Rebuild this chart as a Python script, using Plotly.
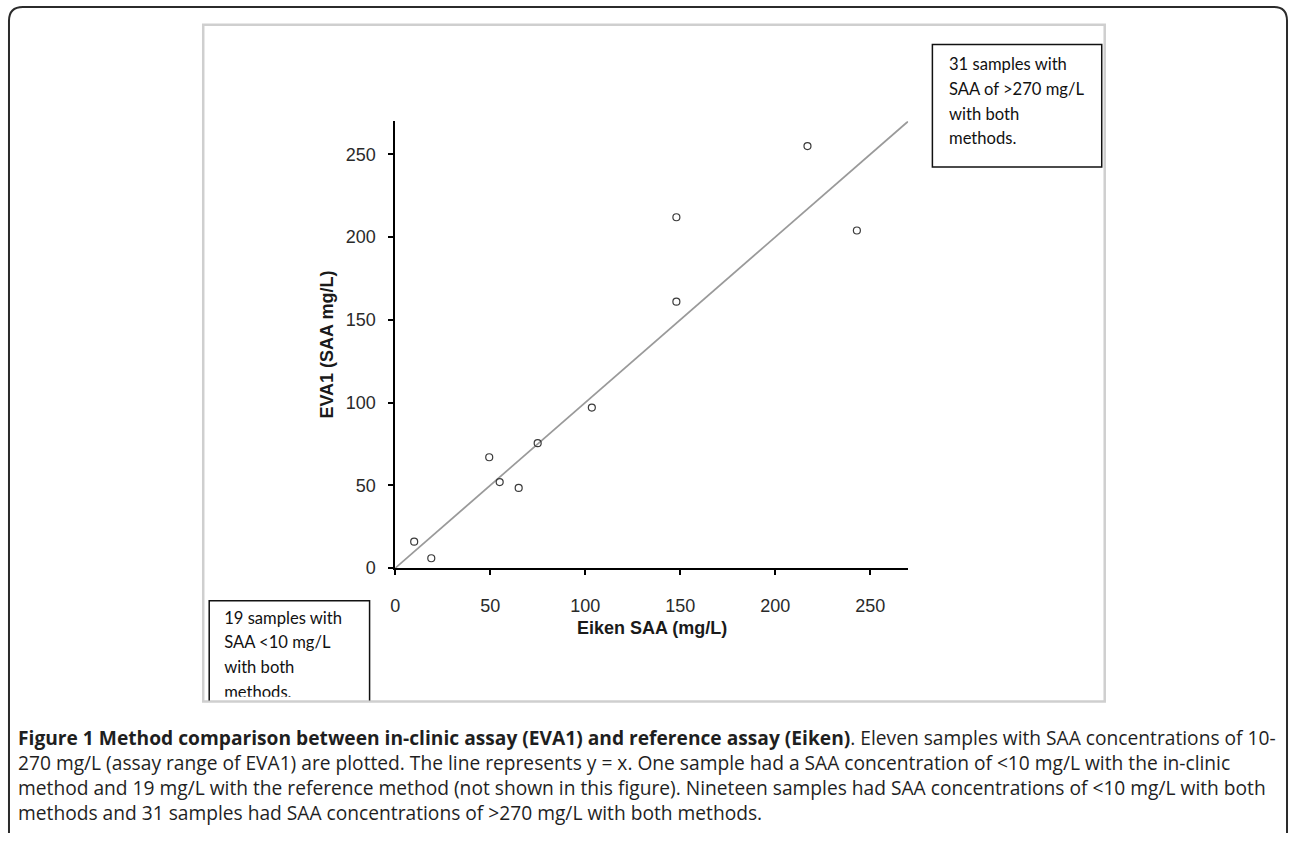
import plotly.graph_objects as go

# ---- data ----
eiken_saa = [10, 19, 49.5, 55, 65, 75, 103.5, 148, 148, 217, 243]
eva1_saa = [16, 6, 67, 52, 48.5, 75.5, 97, 212, 161, 255, 204]
identity_x = [0, 270]
identity_y = [0, 270]
tick_vals = [0, 50, 100, 150, 200, 250]
tick_text = ["0", "50", "100", "150", "200", "250"]

x_title = "Eiken SAA (mg/L)"
y_title = "EVA1 (SAA mg/L)"
box_top_lines = ["31 samples with", "SAA of &gt;270 mg/L", "with both", "methods."]
box_bottom_lines = ["19 samples with", "SAA &lt;10 mg/L", "with both", "methods."]
caption_lines = [
    "<b>Figure 1 Method comparison between in-clinic assay (EVA1) and reference assay (Eiken)</b>. Eleven samples with SAA concentrations of 10-",
    "270 mg/L (assay range of EVA1) are plotted. The line represents y = x. One sample had a SAA concentration of &lt;10 mg/L with the in-clinic",
    "method and 19 mg/L with the reference method (not shown in this figure). Nineteen samples had SAA concentrations of &lt;10 mg/L with both",
    "methods and 31 samples had SAA concentrations of &gt;270 mg/L with both methods.",
]

W, H = 1290, 843
FRAME_BOTTOM = 710
TEXT_CLIP = 705


def px(x):
    return x / W


def py(y):
    return 1 - y / H


fig = go.Figure()

fig.add_trace(go.Scatter(
    x=identity_x, y=identity_y, mode="lines",
    line=dict(color="#9a9a9a", width=1.8), showlegend=False, hoverinfo="skip",
))
fig.add_trace(go.Scatter(
    x=eiken_saa, y=eva1_saa, mode="markers",
    marker=dict(symbol="circle-open", size=7, color="#3a3a3a", line=dict(width=1.2, color="#3a3a3a")),
    showlegend=False, cliponaxis=False,
))

box_font = dict(family="Lato, Open Sans, sans-serif", size=16.6, color="#111111")
# bottom-left box text on a pixel-space overlay subplot so the last line is clipped at the box edge
fig.add_trace(go.Scatter(
    x=[220] * len(box_bottom_lines),
    y=[627 + 25 * i for i in range(len(box_bottom_lines))],
    text=box_bottom_lines, mode="text", textposition="middle right",
    textfont=box_font, cliponaxis=True, showlegend=False, hoverinfo="skip",
    xaxis="x2", yaxis="y2",
))

axis_common = dict(
    range=[0, 270], tickvals=tick_vals, ticktext=tick_text,
    showgrid=False, zeroline=False, showline=True, linecolor="black", linewidth=1.6,
    ticks="outside", ticklen=5, tickwidth=1.6, tickcolor="black",
    tickfont=dict(family="Liberation Sans, Arial", size=18, color="#2a2a2a"),
)

fig.update_layout(
    width=W, height=H,
    margin=dict(l=0, r=0, t=0, b=0),
    paper_bgcolor="white", plot_bgcolor="rgba(0,0,0,0)",
    xaxis=dict(domain=[px(391.7), px(906.7)], ticklabelstandoff=15, **axis_common),
    yaxis=dict(domain=[py(575), py(122.7)], ticklabelstandoff=9, **axis_common),
    xaxis2=dict(domain=[0, 1], range=[0, W], visible=False, anchor="y2", fixedrange=True),
    yaxis2=dict(domain=[py(TEXT_CLIP), 1], range=[TEXT_CLIP, 0], visible=False,
                anchor="x2", fixedrange=True),
)

shapes = []
# outer rounded frame
shapes.append(dict(
    type="path", xref="paper", yref="paper",
    path=(f"M {px(4)},{py(843)} L {px(4)},{py(21)} Q {px(4)},{py(7)} {px(18)},{py(7)} "
          f"L {px(1274)},{py(7)} Q {px(1287)},{py(7)} {px(1287)},{py(21)} L {px(1287)},{py(843)}"),
    line=dict(color="#2b2b2b", width=2),
))
# inner image frame
shapes.append(dict(type="rect", xref="paper", yref="paper",
                   x0=px(199), x1=px(1104), y0=py(FRAME_BOTTOM), y1=py(25),
                   line=dict(color="#cfcfcf", width=2.5)))
# top-right text box
shapes.append(dict(type="rect", xref="paper", yref="paper",
                   x0=px(931), x1=px(1101), y0=py(169), y1=py(45),
                   line=dict(color="#111111", width=1.5)))
# bottom-left text box (sides + top, open at the frame edge)
shapes.append(dict(type="path", xref="paper", yref="paper",
                   path=(f"M {px(205)},{py(FRAME_BOTTOM - 1)} L {px(205)},{py(608)} "
                         f"L {px(366)},{py(608)} L {px(366)},{py(FRAME_BOTTOM - 1)}"),
                   line=dict(color="#111111", width=1.5)))
fig.update_layout(shapes=shapes)

ann = []
for i, t in enumerate(box_top_lines):
    ann.append(dict(xref="paper", yref="paper", x=px(946), y=py(65 + 25 * i), text=t,
                    showarrow=False, xanchor="left", yanchor="middle", font=box_font))

title_font = dict(family="Liberation Sans, Arial", size=18, color="#1a1a1a")
ann.append(dict(xref="paper", yref="paper", x=px(650), y=py(636), text=f"<b>{x_title}</b>",
                showarrow=False, xanchor="center", yanchor="middle", font=title_font))
ann.append(dict(xref="paper", yref="paper", x=px(323), y=py(349), text=f"<b>{y_title}</b>",
                showarrow=False, xanchor="center", yanchor="middle", textangle=-90, font=title_font))

cap_font = dict(family="Open Sans, sans-serif", size=19.2, color="#1f1f1f")
ann.append(dict(xref="paper", yref="paper", x=px(11), y=py(731), text="<br>".join(caption_lines),
                showarrow=False, xanchor="left", yanchor="top", align="left", font=cap_font))

fig.update_layout(annotations=ann)

post = (
    "document.documentElement.style.margin='0';document.body.style.margin='0';"
    "document.documentElement.style.overflow='hidden';document.body.style.overflow='hidden';"
    "var d=document.getElementById('{plot_id}');d.style.position='fixed';d.style.top='0';d.style.left='0';"
)
fig.write_html("out.html", post_script=post, config={"displayModeBar": False})
